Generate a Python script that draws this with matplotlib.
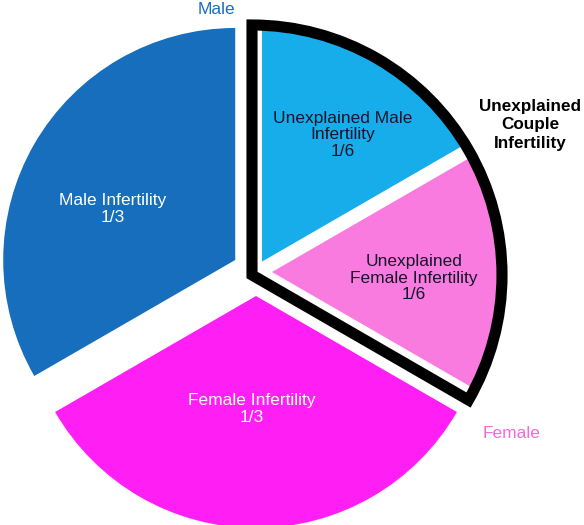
import matplotlib
matplotlib.use("Agg")
import matplotlib.pyplot as plt
from matplotlib.patches import Wedge

# Data
categories = ["Unexplained Male\nInfertility", "Male Infertility", "Female Infertility", "Unexplained\nFemale Infertility"]
values = [1/6, 1/3, 1/3, 1/6]
fraction_labels = ["1/6", "1/3", "1/3", "1/6"]
colors = ["#17ADEB", "#166EBD", "#FF1FF5", "#F97BE0"]
text_colors = ["#15152a", "white", "white", "#15152a"]
explode = [12, 24, 24, 16]  # offsets in pixels (data units)

W, H = 584, 525
fig = plt.figure(figsize=(W / 100, H / 100), dpi=100)
ax = fig.add_axes([0, 0, 1, 1])

def Y(y):
    return H - y

cx, cy, R = 256, Y(272), 232
wedges, _ = ax.pie(values, colors=colors, startangle=30, counterclock=True,
                   explode=explode, radius=R, center=(cx, cy), frame=True,
                   wedgeprops=dict(linewidth=0))
ax.set_xlim(0, W)
ax.set_ylim(0, H)
ax.set_aspect("equal")
ax.axis("off")

# Black outline around unexplained couple infertility
outline = Wedge((252, Y(275)), 250, -30, 90, fill=False, edgecolor="black",
                linewidth=8, joinstyle="miter")
ax.add_patch(outline)

font = ["Liberation Sans", "DejaVu Sans"]
label_pos = [(343, 135), (113, 209), (252, 409), (414, 278)]
for cat, fr, (x, y), tc in zip(categories, fraction_labels, label_pos, text_colors):
    ax.text(x, Y(y), cat + "\n" + fr, ha="center", va="center", fontsize=12.5,
            color=tc, family=font, linespacing=1.15)

ax.text(216, Y(10), "Male", ha="center", va="center", fontsize=12.5, color="#1A6FC0", family=font)
ax.text(512, Y(434), "Female", ha="center", va="center", fontsize=12.5, color="#F06BD8", family=font)
ax.text(530, Y(125), "Unexplained\nCouple\nInfertility", ha="center", va="center",
        fontsize=12.3, fontweight="bold", color="black", family=font, linespacing=1.32)

fig.savefig("out.png", dpi=100)
